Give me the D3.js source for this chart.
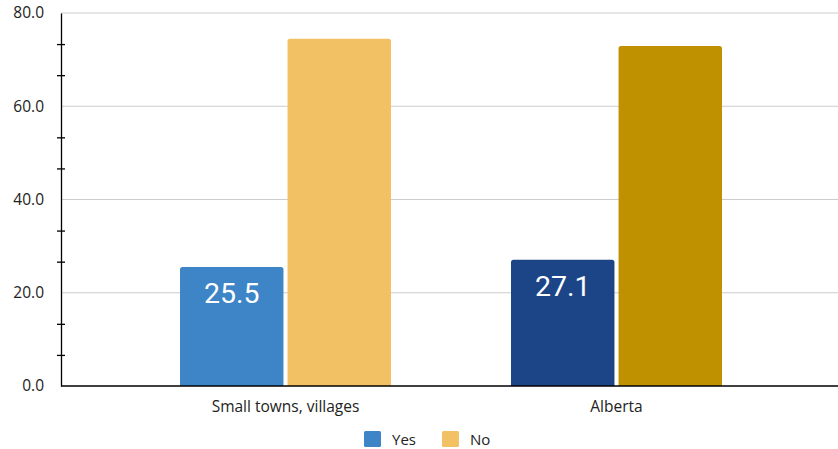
<!DOCTYPE html>
<html>
<head>
<meta charset="utf-8">
<script src="https://cdn.jsdelivr.net/npm/d3@7"></script>
<style>
  body { margin: 0; background: #fff; }
  svg { display: block; font-family: "Open Sans", sans-serif; }
</style>
</head>
<body>
<svg id="chart" width="838" height="449"></svg>
<script>
const categories = ["Small towns, villages", "Alberta"];
const seriesNames = ["Yes", "No"];
const yesValues = [25.5, 27.1];
const noValues = [74.5, 72.9];
const yTicks = [0, 20, 40, 60, 80];
const barColors = [["#3d85c6", "#f1c164"], ["#1c4587", "#bf9000"]];
const legendColors = ["#3d85c6", "#f1c164"];

const svg = d3.select("#chart");
const axisX = 61, plotRight = 838, plotTop = 13, plotBottom = 386;

const y = d3.scaleLinear().domain([0, 80]).range([plotBottom, plotTop]);
const x0 = d3.scaleBand().domain(categories).range([120, 782])
  .paddingInner(120 / 331).paddingOuter(60 / 331);
const x1 = d3.scaleBand().domain(seriesNames).range([0, x0.bandwidth()]).paddingInner(0.038);

// gridlines
svg.append("g").selectAll("line").data(yTicks.filter(d => d > 0)).join("line")
  .attr("x1", axisX).attr("x2", plotRight)
  .attr("y1", d => y(d)).attr("y2", d => y(d))
  .attr("stroke", "#cccccc").attr("stroke-width", 1);

// bars with rounded tops
function roundTop(x, yTop, w, h, r) {
  return `M${x},${yTop + h}V${yTop + r}Q${x},${yTop} ${x + r},${yTop}H${x + w - r}Q${x + w},${yTop} ${x + w},${yTop + r}V${yTop + h}Z`;
}
const rows = categories.map((c, i) => ({ cat: c, i, vals: [yesValues[i], noValues[i]] }));
const groups = svg.append("g").selectAll("g").data(rows).join("g")
  .attr("transform", d => `translate(${x0(d.cat)},0)`);
groups.selectAll("path").data(d => d.vals.map((v, k) => ({ v, k, i: d.i }))).join("path")
  .attr("d", d => roundTop(x1(seriesNames[d.k]), y(d.v), x1.bandwidth(), plotBottom - y(d.v), 2.5))
  .attr("fill", d => barColors[d.i][d.k]);

// value labels on the Yes bars
groups.append("text")
  .attr("x", x1("Yes") + x1.bandwidth() / 2)
  .attr("y", d => y(d.vals[0]) + 36)
  .attr("text-anchor", "middle")
  .attr("fill", "#ffffff")
  .style("font-family", "Roboto, sans-serif")
  .style("font-size", "28.5px")
  .text(d => d.vals[0].toFixed(1));

// y axis with minor ticks
const isMajor = d => { const r = Math.round(d); return Math.abs(d - r) < 1e-6 && r % 20 === 0; };
const yAxis = d3.axisLeft(y)
  .tickValues(d3.range(0, 80.01, 20 / 3))
  .tickSize(4).tickSizeOuter(0)
  .tickFormat(d => isMajor(d) ? Math.round(d).toFixed(1) : "");
const ya = svg.append("g").attr("transform", `translate(${axisX},0)`).call(yAxis);
ya.select(".domain").attr("stroke", "#000").attr("stroke-width", 1.3);
ya.selectAll(".tick line").attr("x1", -4).attr("x2", 4).attr("stroke", "#000").attr("stroke-width", 1.3)
  .attr("display", d => isMajor(d) ? "none" : null);
ya.selectAll(".tick text").attr("x", -17).style("font-size", "15.5px").attr("fill", "#222").style("font-family", "'Open Sans', sans-serif");

// x axis
svg.append("line").attr("x1", axisX).attr("x2", plotRight).attr("y1", plotBottom).attr("y2", plotBottom)
  .attr("stroke", "#000").attr("stroke-width", 1.3);
svg.append("g").selectAll("text").data(categories).join("text")
  .attr("x", d => x0(d) + x0.bandwidth() / 2)
  .attr("y", 412)
  .attr("text-anchor", "middle")
  .attr("fill", "#222")
  .style("font-size", "15.5px")
  .text(d => d);

// legend
const legend = svg.append("g").attr("transform", "translate(364,431)");
const items = legend.selectAll("g").data(seriesNames).join("g")
  .attr("transform", (d, i) => `translate(${i * 78},0)`);
items.append("rect").attr("width", 17).attr("height", 16).attr("rx", 1.5).attr("fill", (d, i) => legendColors[i]);
items.append("text").attr("x", 28).attr("y", 14).attr("fill", "#222").style("font-size", "15px").text(d => d);
</script>
</body>
</html>
